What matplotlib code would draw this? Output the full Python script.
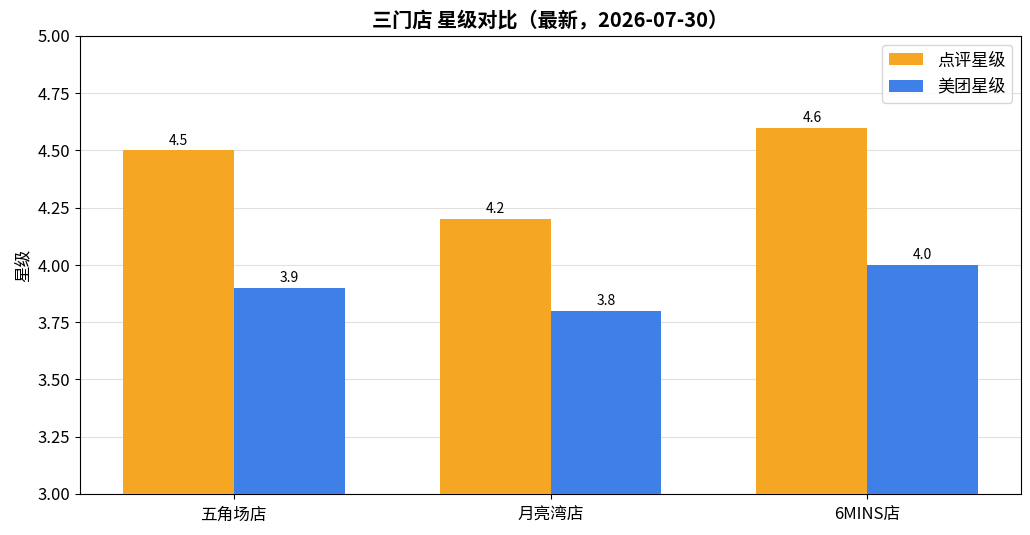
import matplotlib
matplotlib.use("Agg")
import matplotlib.pyplot as plt
import numpy as np

plt.rcParams['font.family'] = ['Noto Sans CJK SC', 'DejaVu Sans']
plt.rcParams['axes.unicode_minus'] = False

stores = ['五角场店', '月亮湾店', '6MINS店']
dianping = [4.5, 4.2, 4.6]
meituan = [3.9, 3.8, 4.0]
series_names = ['点评星级', '美团星级']
title = '三门店 星级对比（最新，2026-07-30）'

fig = plt.figure(figsize=(10.3, 5.35), dpi=100)
ax = fig.add_axes([80/1030, 1-494/535, (1021-80)/1030, (494-36)/535])

x = np.arange(len(stores))
w = 0.35
b1 = ax.bar(x - w/2, dianping, w, color='#F5A623', label=series_names[0], zorder=3)
b2 = ax.bar(x + w/2, meituan, w, color='#3F80E8', label=series_names[1], zorder=3)
for bars in (b1, b2):
    ax.bar_label(bars, labels=[f'{v:.1f}' for v in bars.datavalues], padding=2, fontsize=10)

ax.set_ylim(3.0, 5.0)
ax.set_yticks(np.arange(3.0, 5.01, 0.25))
ax.set_yticklabels([f'{v:.2f}' for v in np.arange(3.0, 5.01, 0.25)])
ax.set_xticks(x)
ax.set_xticklabels(stores, fontsize=12)
ax.tick_params(axis='x', pad=6)
ax.tick_params(axis='y', labelsize=12)
ax.set_ylabel('星级', fontsize=12)
ax.set_title(title, fontsize=14.5, fontweight='bold', pad=6)
ax.grid(axis='y', color='#e0e0e0', linewidth=0.8, zorder=0)
ax.legend(loc='upper right', fontsize=12.3)

fig.savefig('out.png', dpi=100)
